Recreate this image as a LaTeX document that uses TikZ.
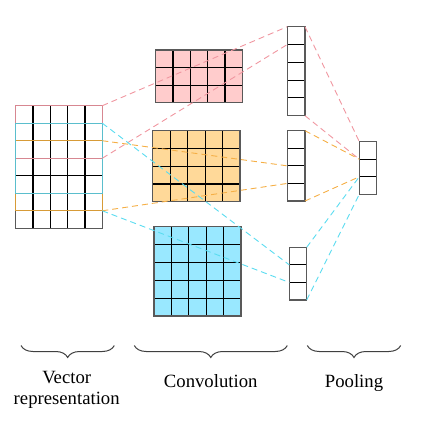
\documentclass[tikz,border=0pt]{standalone}
\usepackage{fontspec}
\setmainfont{Liberation Serif}
\usetikzlibrary{calc,decorations.pathreplacing}
\definecolor{pinkfill}{RGB}{255,204,204}
\definecolor{orangefill}{RGB}{255,217,153}
\definecolor{cyanfill}{RGB}{153,232,255}
\definecolor{pinkline}{RGB}{240,150,160}
\definecolor{orangeline}{RGB}{245,175,70}
\definecolor{cyanline}{RGB}{90,220,240}
\definecolor{pinkwin}{RGB}{215,135,145}
\definecolor{orangewin}{RGB}{215,155,55}
\definecolor{tealwin}{RGB}{90,190,205}
\newcommand\mygrid[8]{%
  \node[gridbox, fill=#8, minimum width=#4pt, minimum height=#5pt] (#1) at (#2,#3) {};
  \foreach \i in {1,...,#6}{%
    \ifnum\i<#6\relax
      \pgfmathsetmacro\ff{\i/#6}%
      \draw[gridline] ($(#1.north west)!\ff!(#1.north east)$) -- ($(#1.south west)!\ff!(#1.south east)$);
    \fi}%
  \foreach \j in {1,...,#7}{%
    \ifnum\j<#7\relax
      \pgfmathsetmacro\ff{\j/#7}%
      \draw[gridline] ($(#1.north west)!\ff!(#1.south west)$) -- ($(#1.north east)!\ff!(#1.south east)$);
    \fi}%
  \node[gridbox, minimum width=#4pt, minimum height=#5pt] at (#2,#3) {};
}
\begin{document}
\begin{tikzpicture}[x=1pt,y=-1pt,
  gridbox/.style={draw=black!65, line width=1.4pt, inner sep=0pt, outer sep=0pt, anchor=north west},
  gridline/.style={line width=1.1pt, black},
  link/.style={dash pattern=on 6pt off 4pt, line width=0.9pt},
  win/.style={line width=1.4pt},
  bracestyle/.style={decorate, decoration={brace, mirror, amplitude=12pt}, line width=1pt, black!75},
  lbl/.style={font=\fontsize{18.7}{21.6}\selectfont, align=center, inner sep=0pt}]
\useasboundingbox (0,0) rectangle (433,436);
% vector representation
\mygrid{mat}{15.7}{105.7}{86.6}{122.6}{5}{7}{white}
% convolution feature maps
\mygrid{pgrid}{155.7}{50}{86.6}{52.7}{5}{3}{pinkfill}
\mygrid{ogrid}{152.7}{130.7}{87.3}{71}{5}{4}{orangefill}
\mygrid{cgrid}{154}{226.7}{87}{89.3}{5}{5}{cyanfill}
% columns
\mygrid{pcol}{287.3}{26.7}{17.7}{89}{1}{5}{white}
\mygrid{ocol}{287.3}{130.7}{17.7}{70.3}{1}{4}{white}
\mygrid{ccol}{289.3}{247.3}{17.4}{52.7}{1}{3}{white}
% pooling
\mygrid{pool}{359.3}{141.7}{17.4}{52.6}{1}{3}{white}
% windows on the matrix
\draw[win, pinkwin] (mat.north west) rectangle ($(mat.north east)!3/7!(mat.south east)$);
\draw[win, orangewin] ($(mat.north west)!2/7!(mat.south west)$) rectangle ($(mat.north east)!6/7!(mat.south east)$);
\draw[win, tealwin] ($(mat.north west)!1/7!(mat.south west)$) rectangle ($(mat.north east)!5/7!(mat.south east)$);
% links matrix -> columns
\draw[link, pinkline] (mat.north east) -- (pcol.north west);
\draw[link, pinkline] ($(mat.north east)!3/7!(mat.south east)$) -- ($(pcol.north west)!1/5!(pcol.south west)$);
\draw[link, orangeline] ($(mat.north east)!2/7!(mat.south east)$) -- ($(ocol.north west)!2/4!(ocol.south west)$);
\draw[link, orangeline] ($(mat.north east)!6/7!(mat.south east)$) -- ($(ocol.north west)!3/4!(ocol.south west)$);
\draw[link, cyanline] ($(mat.north east)!1/7!(mat.south east)$) -- ($(ccol.north west)!1/3!(ccol.south west)$);
\draw[link, cyanline] ($(mat.north east)!6/7!(mat.south east)$) -- ($(ccol.north west)!2/3!(ccol.south west)$);
% links columns -> pooling
\draw[link, pinkline] (pcol.north east) -- (pool.north west);
\draw[link, pinkline] (pcol.south east) -- ($(pool.north west)!1/3!(pool.south west)$);
\draw[link, orangeline] (ocol.north east) -- ($(pool.north west)!1/3!(pool.south west)$);
\draw[link, orangeline] (ocol.south east) -- ($(pool.north west)!2/3!(pool.south west)$);
\draw[link, cyanline] (ccol.north east) -- ($(pool.north west)!2/3!(pool.south west)$);
\draw[link, cyanline] (ccol.south east) -- (pool.south west);
% braces
\coordinate (b1l) at (21,345.5);
\coordinate (b1r) at (114.3,345.5);
\coordinate (b2l) at (134.3,345.5);
\coordinate (b2r) at (287.3,345.5);
\coordinate (b3l) at (307.3,345.5);
\coordinate (b3r) at (400.7,345.5);
\draw[bracestyle] (b1l) -- (b1r);
\draw[bracestyle] (b2l) -- (b2r);
\draw[bracestyle] (b3l) -- (b3r);
% labels
\node[lbl, anchor=base] (vec) at (66.7,404.6) {Vector\\representation};
\node[lbl, anchor=base] (conv) at (210.7,387) {Convolution};
\node[lbl, anchor=base] (poolt) at (354,387) {Pooling};
\end{tikzpicture}
\end{document}
